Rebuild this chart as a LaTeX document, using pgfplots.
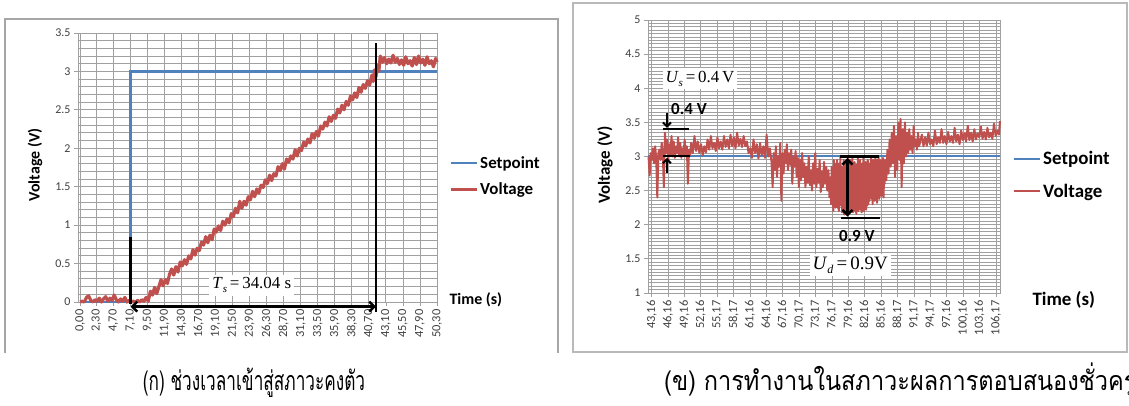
\documentclass[border=0pt]{standalone}
\usepackage{fontspec}
\usepackage{pgfplots}
\pgfplotsset{compat=1.18}
\usetikzlibrary{arrows.meta}
\setmainfont{Carlito}
\newfontfamily\thaifont[Script=Thai]{Loma}
\newfontfamily\seriffont{Liberation Serif}

\definecolor{setblue}{HTML}{4F81BD}
\definecolor{volred}{HTML}{C0504D}
\definecolor{gridgray}{HTML}{A0A0A0}
\definecolor{ticktext}{HTML}{404040}

\pgfplotsset{
  excel/.style={
    scale only axis,
    axis line style={gridgray, line width=0.8bp},
    grid=both,
    major grid style={gridgray, line width=0.9bp},
    minor grid style={gridgray, line width=0.9bp},
    tick style={gridgray, line width=0.8bp},
    tick align=outside,
    major tick length=4bp,
    minor tick length=0pt,
    xtick pos=left, ytick pos=left,
    x tick label style={rotate=90, anchor=east, font=\fontsize{12.5}{12.5}\selectfont, text=ticktext},
    y tick label style={font=\fontsize{12}{12}\selectfont, text=ticktext},
    legend cell align=left,
    legend image code/.code={\draw[#1] (0bp,0bp) -- (26bp,0bp);},
    clip=false,
  }
}

\newcommand{\capfont}{\thaifont\fontsize{27}{27}\selectfont}

\begin{document}
\begin{tikzpicture}[x=1bp,y=1bp]
\useasboundingbox (0,0) rectangle (1129,405);
\clip (0,0) rectangle (1129,405);

% chart frames
\draw[gray!70, line width=1.2bp] (5,52) -- (5,386) -- (558,386) -- (558,52);
\draw[gray!55, line width=1.5bp] (573,53) rectangle (1127,402);

% ---------------- settling time chart ----------------
\begin{axis}[excel,
  at={(78bp,103bp)}, anchor=south west,
  width=359bp, height=269bp,
  xmin=-0.3, xmax=50.3, ymin=0, ymax=3.5,
  xtick={0,2.3,4.7,7.1,9.5,11.9,14.3,16.7,19.1,21.5,23.9,26.3,28.7,31.1,33.5,35.9,38.3,40.7,43.1,45.5,47.9,50.3},
  xticklabels={{0,00},{2,30},{4,70},{7,10},{9,50},{11,90},{14,30},{16,70},{19,10},{21,50},{23,90},{26,30},{28,70},{31,10},{33,50},{35,90},{38,30},{40,70},{43,10},{45,50},{47,90},{50,30}},
  minor x tick num=1,
  ytick={0,0.5,1,1.5,2,2.5,3,3.5},
  yticklabels={0,0.5,1,1.5,2,2.5,3,3.5},
  minor y tick num=4,
  legend style={at={(rel axis cs:1.033,0.468)}, anchor=west, draw=none, fill=none,
    font=\fontsize{17}{17}\selectfont\bfseries, row sep=9bp, inner xsep=0pt},
]
\addlegendimage{setblue, line width=2.2bp}
\addlegendentry{Setpoint}
\addlegendimage{volred, line width=3.2bp}
\addlegendentry{Voltage}
\addplot[forget plot, setblue, line width=2.2bp] coordinates {(0,0) (7.1,0) (7.1,3) (50.3,3)};
\addplot[forget plot, volred, line width=3.2bp, line join=round] coordinates {
(0.0,0.00) (0.3,0.01) (0.6,0.00) (0.9,0.06) (1.2,0.08) (1.5,0.02) (1.8,0.00) (2.1,0.03)
(2.4,0.01) (2.7,0.05) (3.0,0.00) (3.3,0.04) (3.6,0.07) (3.9,0.01) (4.2,0.05) (4.5,0.02)
(4.8,0.09) (5.1,0.03) (5.4,0.00) (5.7,0.04) (6.0,0.01) (6.3,0.06) (6.6,0.00) (6.9,0.02)
(7.2,0.00) (7.5,0.01) (7.8,0.00) (8.1,0.02) (8.4,0.00) (8.7,0.03) (9.0,0.01)
(9.3,0.06) (9.6,0.01) (9.9,0.14) (10.2,0.09) (10.5,0.19) (10.8,0.11) (11.1,0.20) (11.4,0.29)
(11.7,0.21) (12.0,0.29) (12.3,0.24) (12.6,0.36) (12.9,0.43) (13.2,0.35) (13.5,0.46) (13.8,0.39)
(14.1,0.52) (14.4,0.47) (14.7,0.55) (15.0,0.49) (15.3,0.60) (15.6,0.56) (15.9,0.68) (16.2,0.61)
(16.5,0.70) (16.8,0.67) (17.1,0.78) (17.4,0.74) (17.7,0.85) (18.0,0.77) (18.3,0.87) (18.6,0.81)
(18.9,0.95) (19.2,0.91) (19.5,0.99) (19.8,0.93) (20.1,1.05) (20.4,1.00) (20.7,1.08) (21.0,1.03)
(21.3,1.15) (21.6,1.11) (21.9,1.22) (22.2,1.16) (22.5,1.31) (22.8,1.22) (23.1,1.31) (23.4,1.26)
(23.7,1.37) (24.0,1.33) (24.3,1.44) (24.6,1.37) (24.9,1.47) (25.2,1.42) (25.5,1.52) (25.8,1.49)
(26.1,1.59) (26.4,1.54) (26.7,1.65) (27.0,1.58) (27.3,1.67) (27.6,1.64) (27.9,1.76) (28.2,1.71)
(28.5,1.80) (28.8,1.73) (29.1,1.86) (29.4,1.82) (29.7,1.90) (30.0,1.86) (30.3,1.98) (30.6,1.90)
(30.9,2.00) (31.2,1.97) (31.5,2.08) (31.8,2.03) (32.1,2.12) (32.4,2.07) (32.7,2.19) (33.0,2.13)
(33.3,2.22) (33.6,2.16) (33.9,2.29) (34.2,2.25) (34.5,2.34) (34.8,2.29) (35.1,2.41) (35.4,2.35)
(35.7,2.43) (36.0,2.39) (36.3,2.51) (36.6,2.46) (36.9,2.56) (37.2,2.50) (37.5,2.61) (37.8,2.56)
(38.1,2.68) (38.4,2.63) (38.7,2.72) (39.0,2.66) (39.3,2.79) (39.6,2.73) (39.9,2.83) (40.2,2.78)
(40.5,2.88) (40.8,2.82) (41.1,2.95) (41.3,2.87) (41.5,3.02) (41.7,2.93) (41.9,3.08) (42.1,3.00)
(42.3,3.20) (42.6,3.12) (42.9,3.18) (43.2,3.10) (43.5,3.16) (43.8,3.11) (44.1,3.21) (44.4,3.12)
(44.7,3.17) (45.0,3.09) (45.3,3.15) (45.6,3.08) (45.9,3.19) (46.2,3.10) (46.5,3.14) (46.8,3.07)
(47.1,3.18) (47.4,3.09) (47.7,3.20) (48.0,3.11) (48.3,3.16) (48.6,3.08) (48.9,3.19) (49.2,3.10)
(49.5,3.14) (49.8,3.06) (50.1,3.17) (50.3,3.12)
};
% settling-time markers
\draw[black, line width=2.5bp] (axis cs:7.1,0.85) -- (axis cs:7.1,-0.03);
\draw[black, line width=2.5bp] (axis cs:41.7,3.37) -- (axis cs:41.7,-0.13);
\draw[black, line width=2.5bp, {Straight Barb[length=5bp,width=10bp]}-{Straight Barb[length=5bp,width=10bp]}]
  (axis cs:7.1,-0.06) -- (axis cs:41.7,-0.06);
\node[fill=white, inner sep=3bp, font=\seriffont\fontsize{17}{17}\selectfont]
  at (axis cs:24.2,0.22) {\textit{T}\raisebox{-0.45ex}{\fontsize{11}{11}\selectfont\textit{s}}\,=\,34.04 s};
\end{axis}

% ---------------- transient response chart ----------------
\begin{axis}[excel,
  at={(648bp,112bp)}, anchor=south west,
  width=352bp, height=273bp,
  xmin=42.5, xmax=106.9, ymin=1, ymax=5,
  xtick={43.16,46.16,49.16,52.16,55.17,58.17,61.16,64.16,67.16,70.17,73.17,76.17,79.16,82.16,85.16,88.17,91.17,94.17,97.16,100.16,103.16,106.17},
  xticklabels={{43,16},{46,16},{49,16},{52,16},{55,17},{58,17},{61,16},{64,16},{67,16},{70,17},{73,17},{76,17},{79,16},{82,16},{85,16},{88,17},{91,17},{94,17},{97,16},{100,16},{103,16},{106,17}},
  minor x tick num=2,
  ytick={1,1.5,2,2.5,3,3.5,4,4.5,5},
  yticklabels={1,1.5,2,2.5,3,3.5,4,4.5,5},
  minor y tick num=9,
  legend style={at={(rel axis cs:1.037,0.432)}, anchor=west, draw=none, fill=none,
    font=\fontsize{19}{19}\selectfont\bfseries, row sep=14bp, inner xsep=0pt},
]
\addlegendimage{setblue, line width=2bp}
\addlegendentry{Setpoint}
\addlegendimage{volred, line width=2bp}
\addlegendentry{Voltage}
\addplot[forget plot, setblue, line width=2bp] coordinates {(42.5,3) (106.9,3)};
\addplot[forget plot, volred, line width=2bp, line join=round] coordinates {
(42.6,3.00) (42.8,2.72) (43.0,3.05) (43.2,2.95) (43.4,3.12) (43.6,2.90) (43.8,3.15) (44.0,2.98)
(44.2,2.40) (44.4,3.05) (44.6,3.10) (44.8,2.95) (45.0,3.20) (45.2,3.05) (45.4,2.55) (45.6,3.35)
(45.8,3.05) (46.0,3.25) (46.2,2.95) (46.4,3.18) (46.6,3.02) (46.8,3.30) (47.0,3.00) (47.2,3.22)
(47.4,2.98) (47.6,3.15) (47.8,3.05) (48.0,3.28) (48.2,3.00) (48.4,3.20) (48.6,2.98) (48.8,3.12)
(49.0,3.02) (49.2,3.25) (49.4,3.00) (49.6,3.15) (49.8,2.60) (50.0,3.10) (50.2,3.02)
(50.4,3.20) (50.7,3.05) (51.0,3.30) (51.3,3.08) (51.6,3.22) (51.9,3.05) (52.2,3.18) (52.5,3.02)
(52.8,3.15) (53.1,3.06) (53.4,3.25) (53.7,3.10) (54.0,3.30) (54.3,3.12) (54.6,3.20) (54.9,3.08)
(55.2,3.28) (55.5,3.12) (55.8,3.22) (56.1,3.10) (56.4,3.30) (56.7,3.14) (57.0,3.25) (57.3,3.12)
(57.6,3.32) (57.9,3.15) (58.2,3.28) (58.5,3.12) (58.8,3.35) (59.1,3.16) (59.4,3.26) (59.7,3.14)
(60.0,3.30) (60.3,3.15) (60.6,3.22) (60.9,3.05)
(61.2,3.12) (61.5,2.98) (61.8,3.25) (62.1,3.05) (62.4,3.18) (62.7,2.97) (63.0,3.20) (63.3,3.02)
(63.6,3.15) (63.9,2.98) (64.2,3.32) (64.5,3.00) (64.8,3.12) (65.1,2.92)
(65.3,2.55) (65.5,3.05) (65.7,2.80) (65.9,3.15) (66.1,2.70) (66.3,3.00) (66.5,2.85) (66.7,3.20)
(66.9,2.35) (67.1,3.05) (67.3,2.75) (67.5,3.10) (67.7,2.90) (67.9,3.18) (68.1,2.80) (68.3,3.05)
(68.5,2.88) (68.7,3.10) (68.9,2.60) (69.1,3.00) (69.3,2.85) (69.5,3.08) (69.7,2.70) (69.9,2.98)
(70.1,2.55) (70.3,2.95) (70.5,2.65) (70.7,3.05) (70.9,2.70) (71.1,2.90) (71.3,2.55) (71.5,2.85)
(71.7,2.62) (71.9,3.00) (72.1,2.58) (72.3,2.80) (72.5,2.50) (72.7,2.90) (72.9,2.60) (73.1,3.05)
(73.3,2.55) (73.5,2.82) (73.7,2.62) (73.9,2.95) (74.1,2.48) (74.3,2.78) (74.5,2.55) (74.7,2.92)
(74.9,2.60) (75.1,2.85) (75.3,2.50) (75.5,2.80) (75.7,2.40) (75.9,2.70)
(76.0,2.30) (76.1,2.85) (76.2,2.45) (76.3,2.75) (76.4,2.20) (76.5,2.95) (76.6,2.30) (76.7,2.90)
(76.8,2.25) (76.9,2.75) (77.0,2.40) (77.1,2.95) (77.2,2.25) (77.3,2.70) (77.4,2.20) (77.5,2.90)
(77.6,2.35) (77.7,3.00) (77.8,2.28) (77.9,2.85) (78.0,2.18) (78.1,2.80) (78.2,2.30) (78.3,2.95)
(78.4,2.15) (78.5,2.70) (78.6,2.22) (78.7,2.90) (78.8,2.18) (78.9,2.80) (79.0,2.30) (79.1,3.00)
(79.2,2.16) (79.3,2.75) (79.4,2.25) (79.5,2.95) (79.6,2.20) (79.7,2.85) (79.8,2.35) (79.9,2.98)
(80.0,2.18) (80.1,2.78) (80.2,2.28) (80.3,2.92) (80.4,2.20) (80.5,2.70) (80.6,2.16) (80.7,2.88)
(80.8,2.25) (80.9,2.98) (81.0,2.20) (81.1,2.82) (81.2,2.30) (81.3,2.95) (81.4,2.22) (81.5,2.75)
(81.6,2.18) (81.7,2.90) (81.8,2.28) (81.9,3.00) (82.0,2.20) (82.1,2.80) (82.2,2.35) (82.3,2.92)
(82.4,2.22) (82.5,2.72) (82.6,2.28) (82.7,2.95) (82.8,2.30) (82.9,2.80)
(83.0,2.35) (83.1,2.90) (83.2,2.45) (83.3,2.98) (83.4,2.38) (83.5,2.80) (83.6,2.30) (83.7,2.95)
(83.8,2.42) (83.9,2.88) (84.0,2.35) (84.1,2.98) (84.2,2.45) (84.3,2.80) (84.4,2.32) (84.5,2.95)
(84.6,2.40) (84.7,3.00) (84.8,2.38) (84.9,2.85) (85.0,2.50) (85.1,2.95) (85.2,2.42) (85.3,2.88)
(85.4,2.55) (85.5,2.98) (85.6,2.40) (85.7,2.85) (85.8,2.60) (85.9,2.95)
(86.1,2.65) (86.3,3.10) (86.5,2.75) (86.7,3.25) (86.9,2.85) (87.1,3.35) (87.3,2.90) (87.5,3.45)
(87.7,2.70) (87.9,3.30) (88.1,2.80) (88.3,3.50) (88.5,2.95) (88.7,3.55) (88.9,2.55) (89.1,3.40)
(89.3,2.90) (89.5,3.50) (89.7,3.00) (89.9,3.35)
(90.1,3.05) (90.3,3.40) (90.5,3.10) (90.7,3.30) (90.9,3.05) (91.1,3.45) (91.3,3.15) (91.5,3.25)
(91.7,3.10) (91.9,3.35) (92.1,3.15) (92.3,3.22)
(92.6,3.32) (92.9,3.15) (93.2,3.28) (93.5,3.16) (93.8,3.35) (94.1,3.18) (94.4,3.25) (94.7,3.15)
(95.0,3.38) (95.3,3.18) (95.6,3.28) (95.9,3.20) (96.2,3.40) (96.5,3.20) (96.8,3.30) (97.1,3.18)
(97.4,3.36) (97.7,3.22) (98.0,3.30) (98.3,3.20) (98.6,3.42) (98.9,3.22) (99.2,3.32) (99.5,3.18)
(99.8,3.38) (100.1,3.24) (100.4,3.34) (100.7,3.22) (101.0,3.45) (101.3,3.24) (101.6,3.35) (101.9,3.22)
(102.2,3.40) (102.5,3.25) (102.8,3.34) (103.1,3.28) (103.4,3.44) (103.7,3.26) (104.0,3.36) (104.3,3.25)
(104.6,3.42) (104.9,3.28) (105.2,3.35) (105.5,3.26) (105.8,3.48) (106.1,3.30) (106.4,3.38) (106.7,3.32)
(106.9,3.52)
};
% overshoot markers
\draw[black, line width=2bp] (axis cs:45.2,3.4) -- (axis cs:50.0,3.4);
\draw[black, line width=2bp] (axis cs:45.2,3.0) -- (axis cs:50.1,3.0);
\draw[black, line width=2bp, -{Straight Barb[length=4bp,width=8bp]}] (axis cs:45.96,3.64) -- (axis cs:45.96,3.42);
\draw[black, line width=2bp, -{Straight Barb[length=4bp,width=8bp]}] (axis cs:45.96,2.76) -- (axis cs:45.96,2.98);
\node[font=\bfseries\fontsize{17}{17}\selectfont, inner sep=0pt] at (axis cs:50.0,3.70) {0.4 V};
\node[fill=white, inner sep=3bp, font=\seriffont\fontsize{17}{17}\selectfont]
  at (axis cs:52.0,4.14) {\textit{U}\raisebox{-0.45ex}{\fontsize{11}{11}\selectfont\textit{s}}\,=\,0.4\,V};
% undershoot markers
\draw[black, line width=2.5bp] (axis cs:77.6,3.0) -- (axis cs:84.7,3.0);
\draw[black, line width=2.5bp] (axis cs:77.8,2.1) -- (axis cs:84.9,2.1);
\draw[black, line width=2.5bp, {Straight Barb[length=5bp,width=10bp]}-{Straight Barb[length=5bp,width=10bp]}]
  (axis cs:79.0,2.98) -- (axis cs:79.0,2.12);
\node[font=\bfseries\fontsize{17}{17}\selectfont, inner sep=0pt] at (axis cs:80.7,1.84) {0.9 V};
\node[fill=white, inner sep=3bp, font=\seriffont\fontsize{19}{19}\selectfont]
  at (axis cs:79.5,1.41) {\textit{U}\raisebox{-0.45ex}{\fontsize{12}{12}\selectfont\textit{d}}\,=\,0.9V};
\end{axis}

% axis titles
\node[rotate=90, font=\bfseries\fontsize{16}{16}\selectfont] at (35,240) {Voltage (V)};
\node[anchor=west, font=\bfseries\fontsize{16}{16}\selectfont] at (446,105) {Time (s)};
\node[rotate=90, font=\bfseries\fontsize{17}{17}\selectfont] at (605,240) {Voltage (V)};
\node[anchor=west, font=\bfseries\fontsize{19}{19}\selectfont] at (1029,105) {Time (s)};

% captions (the second one runs past the right edge of the page)
\node[anchor=base, inner sep=0pt] at (254,15) {\scalebox{0.64}[1]{\capfont (ก) ช่วงเวลาเข้าสู่สภาวะคงตัว}};
\node[anchor=base west, inner sep=0pt] at (664,15) {\scalebox{0.875}[1]{\capfont (ข) การทำงานในสภาวะผลการตอบสนองชั่วครู่}};
\end{tikzpicture}
\end{document}
